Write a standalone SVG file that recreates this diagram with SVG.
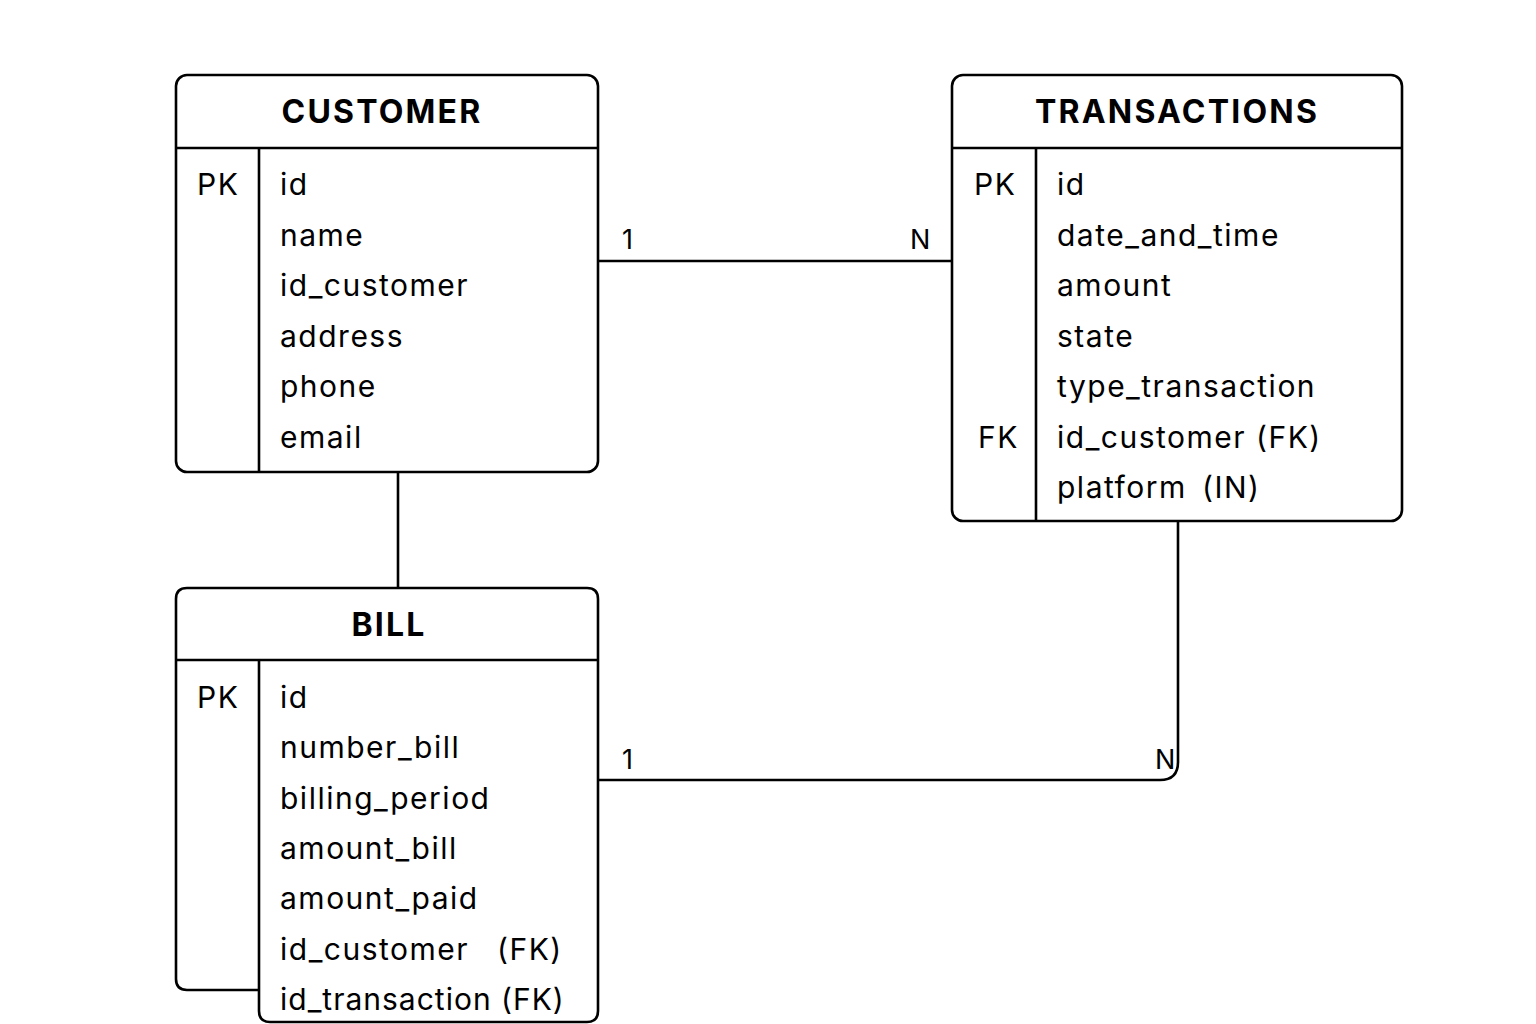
<svg xmlns="http://www.w3.org/2000/svg" width="1536" height="1024" viewBox="0 0 1536 1024">
<style>
.box{fill:none;stroke:#000;stroke-width:2.6;stroke-linejoin:round}
.ln{fill:none;stroke:#000;stroke-width:2.6}
.t{font-family:Inter,"Noto Sans","Liberation Sans",sans-serif;font-size:30px;letter-spacing:1.5px;fill:#000}
.h{font-family:Inter,"Noto Sans","Liberation Sans",sans-serif;font-size:32px;font-weight:bold;letter-spacing:2.2px;fill:#000;text-anchor:middle}
.c{font-family:Inter,"Noto Sans","Liberation Sans",sans-serif;font-size:27px;fill:#000}
</style>
<rect width="1536" height="1024" fill="#fff"/>
<g id="connectors">
<line class="ln" x1="598" y1="261" x2="952" y2="261"/>
<line class="ln" x1="398" y1="472" x2="398" y2="588"/>
<path class="ln" d="M598 780 H1160 Q1178 780 1178 762 V521"/>
<text class="c" x="622" y="249">1</text>
<text class="c" x="910" y="249">N</text>
<text class="c" x="622" y="769">1</text>
<text class="c" x="1155" y="769">N</text>
</g>
<g id="customer">
<rect class="box" x="176" y="75" width="422" height="397" rx="11"/>
<line class="ln" x1="176" y1="148" x2="598" y2="148"/>
<line class="ln" x1="259" y1="148" x2="259" y2="472"/>
<text class="h" x="382" y="123">CUSTOMER</text>
<text class="t" x="197" y="195">PK</text>
<text class="t" x="280" y="195">id</text>
<text class="t" x="280" y="246">name</text>
<text class="t" x="280" y="296">id_customer</text>
<text class="t" x="280" y="347">address</text>
<text class="t" x="280" y="397">phone</text>
<text class="t" x="280" y="448">email</text>
</g>
<g id="transactions">
<rect class="box" x="952" y="75" width="450" height="446" rx="11"/>
<line class="ln" x1="952" y1="148" x2="1402" y2="148"/>
<line class="ln" x1="1036" y1="148" x2="1036" y2="521"/>
<text class="h" x="1177" y="123">TRANSACTIONS</text>
<text class="t" x="974" y="195">PK</text>
<text class="t" x="1057" y="195">id</text>
<text class="t" x="1057" y="246">date_and_time</text>
<text class="t" x="1057" y="296">amount</text>
<text class="t" x="1057" y="347">state</text>
<text class="t" x="1057" y="397">type_transaction</text>
<text class="t" x="978" y="448">FK</text>
<text class="t" x="1057" y="448">id_customer (FK)</text>
<text class="t" x="1057" y="498">platform <tspan x="1202">(IN)</tspan></text>
</g>
<g id="bill">
<path class="box" d="M259 990 H187 Q176 990 176 979 V599 Q176 588 187 588 H587 Q598 588 598 599 V1011 Q598 1022 587 1022 H270 Q259 1022 259 1011 V660"/>
<line class="ln" x1="176" y1="660" x2="598" y2="660"/>
<text class="h" x="389" y="636">BILL</text>
<text class="t" x="197" y="708">PK</text>
<text class="t" x="280" y="708">id</text>
<text class="t" x="280" y="758">number_bill</text>
<text class="t" x="280" y="809">billing_period</text>
<text class="t" x="280" y="859">amount_bill</text>
<text class="t" x="280" y="909">amount_paid</text>
<text class="t" x="280" y="960">id_customer <tspan x="497">(FK)</tspan></text>
<text class="t" x="280" y="1010" style="letter-spacing:1px">id_transaction (FK)</text>
</g>
</svg>
